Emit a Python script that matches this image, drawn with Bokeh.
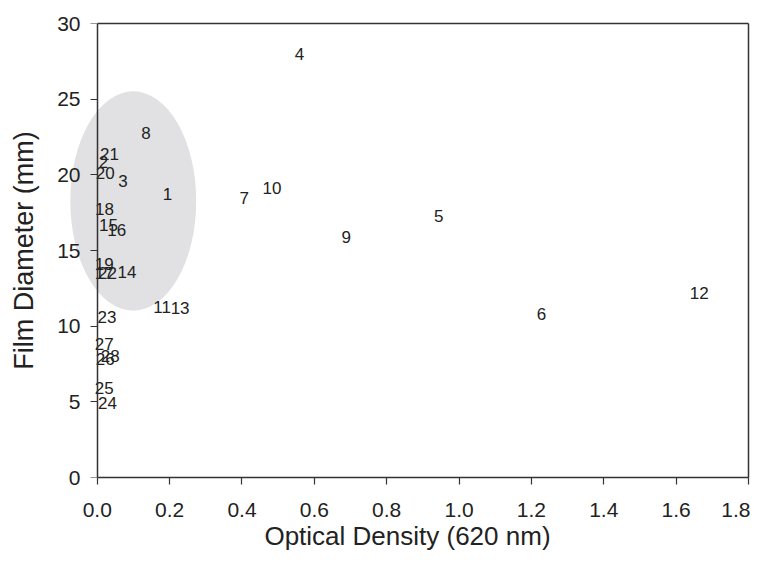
from bokeh.plotting import figure
from bokeh.models import ColumnDataSource, FixedTicker, PrintfTickFormatter, LinearAxis
from bokeh.core.properties import value
from bokeh.embed import file_html
from bokeh.resources import INLINE

labels = ["1", "2", "3", "4", "5", "6", "7", "8", "9", "10",
          "11", "12", "13", "14", "15", "16", "17", "18", "19", "20",
          "21", "22", "23", "24", "25", "26", "27", "28"]
optical_density = [0.194, 0.017, 0.071, 0.559, 0.944, 1.228, 0.406, 0.135, 0.688, 0.483,
                   0.179, 1.664, 0.229, 0.082, 0.031, 0.054, 0.019, 0.020, 0.019, 0.022,
                   0.034, 0.028, 0.027, 0.028, 0.019, 0.022, 0.019, 0.036]
film_diameter = [18.72, 20.85, 19.60, 28.0, 17.27, 10.81, 18.50, 22.76, 15.91, 19.16,
                 11.29, 12.20, 11.19, 13.60, 16.68, 16.35, 13.5, 17.71, 14.11, 20.09,
                 21.40, 13.5, 10.59, 4.92, 5.91, 7.84, 8.83, 8.00]

x_ticks = [0.0, 0.2, 0.4, 0.6, 0.8, 1.0, 1.2, 1.4, 1.6, 1.8]
y_ticks = [0, 5, 10, 15, 20, 25, 30]

# highlighted cluster ellipse (center x, center y, width, height in data units)
ell_x = [0.0995]
ell_y = [18.27]
ell_w = [0.348]
ell_h = [14.5]

FONT = "Liberation Sans"
TXT = "#222222"
LINE = "#333333"

p = figure(width=750, height=553, x_range=(-0.085, 1.8), y_range=(0, 30),
           output_backend="svg", toolbar_location=None,
           min_border_left=66, min_border_right=2, min_border_top=23, min_border_bottom=75)
p.outline_line_color = None
p.xgrid.visible = False
p.ygrid.visible = False

p.ellipse(x=ell_x, y=ell_y, width=ell_w, height=ell_h, fill_color="#e1e1e3",
          line_color=None)

src = ColumnDataSource(dict(x=optical_density, y=film_diameter, label=labels))
p.text(x="x", y="y", text="label", source=src, text_align="center", text_baseline="middle",
       text_font=value(FONT), text_font_size="17px", text_color=TXT)

# x axis
xa = p.xaxis[0]
xa.axis_line_color = LINE
xa.axis_line_width = 1.5
xa.major_tick_line_color = LINE
xa.major_tick_line_width = 1.2
xa.major_tick_in = 0
xa.major_tick_out = 7
xa.minor_tick_line_color = None
xa.major_label_text_font = FONT
xa.major_label_text_font_size = "21px"
xa.major_label_text_color = TXT
xa.axis_label_text_font = FONT
xa.axis_label_text_font_size = "26px"
xa.axis_label_text_font_style = "normal"
xa.axis_label_text_color = TXT
xa.ticker = FixedTicker(ticks=x_ticks)
xa.formatter = PrintfTickFormatter(format="%.1f")
xa.bounds = (0, 1.8)
xa.axis_label = "Optical Density (620 nm)"
xa.major_label_standoff = 18
xa.axis_label_standoff = 1

# y axis in the left panel: tick labels and title only
ya = p.yaxis[0]
ya.ticker = FixedTicker(ticks=y_ticks)
ya.axis_line_color = None
ya.major_tick_line_color = None
ya.major_tick_in = 0
ya.major_tick_out = 0
ya.minor_tick_line_color = None
ya.major_label_text_font = FONT
ya.major_label_text_font_size = "21px"
ya.major_label_text_color = TXT
ya.major_label_standoff = -14
ya.axis_label = "Film Diameter (mm)"
ya.axis_label_text_font = FONT
ya.axis_label_text_font_size = "27px"
ya.axis_label_text_font_style = "normal"
ya.axis_label_text_color = TXT
ya.axis_label_standoff = 15

# y axis line and ticks placed at x = 0
y0 = LinearAxis(ticker=FixedTicker(ticks=y_ticks), fixed_location=0,
                axis_line_color=LINE, axis_line_width=1.5,
                major_tick_line_color=LINE, major_tick_line_width=1.2,
                major_tick_in=0, major_tick_out=7, minor_tick_line_color=None,
                major_label_text_color=None)
p.add_layout(y0, "left")

# frame border on top and right
top = LinearAxis(ticker=FixedTicker(ticks=[]), bounds=(0, 1.8), axis_line_color=LINE,
                 axis_line_width=1.5, major_tick_out=0, major_tick_in=0,
                 minor_tick_out=0, minor_tick_in=0)
right = LinearAxis(ticker=FixedTicker(ticks=[]), axis_line_color=LINE,
                   axis_line_width=1.5, major_tick_out=0, major_tick_in=0,
                   minor_tick_out=0, minor_tick_in=0)
p.add_layout(top, "above")
p.add_layout(right, "right")

open("out.html", "w").write(file_html(p, INLINE))
